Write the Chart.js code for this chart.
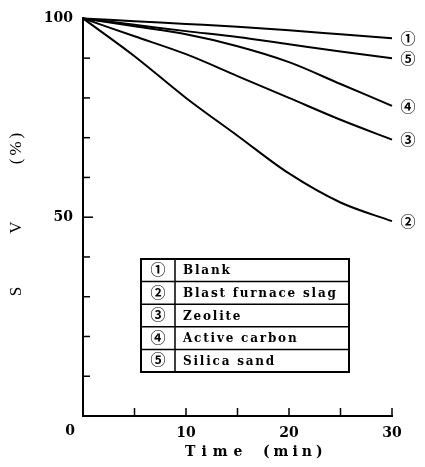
<!DOCTYPE html>
<html>
<head>
<meta charset="utf-8">
<script src="https://cdn.jsdelivr.net/npm/chart.js@4.4.0/dist/chart.umd.min.js"></script>
<style>
  html, body { margin: 0; padding: 0; background: #fff; }
  #wrap { width: 425px; height: 467px; position: relative; }
</style>
</head>
<body>
<div id="wrap"><canvas id="svChart"></canvas></div>
<script>
// time (min)
const times = [0, 5, 10, 15, 20, 25, 30];

// SV (%) per material
const blank = [100, 99.3, 98.6, 97.9, 97, 96, 95];
const blastFurnaceSlag = [100, 90.5, 80, 70.5, 61, 53.7, 49];
const zeolite = [100, 95.5, 91, 85.5, 80, 74.5, 69.5];
const activeCarbon = [100, 98, 96, 93, 89, 83.5, 78];
const silicaSand = [100, 98.4, 96.8, 95.3, 93.5, 91.7, 90];

const seriesNames = ['Blank', 'Blast furnace slag', 'Zeolite', 'Active carbon', 'Silica sand'];
const seriesMarks = ['①', '②', '③', '④', '⑤'];
const seriesValues = [blank, blastFurnaceSlag, zeolite, activeCarbon, silicaSand];

const xTickLabels = [10, 20, 30];
const yTickLabels = [100, 50];

const SERIF_BOLD = 'bold 14px "DejaVu Serif", serif';
const MARK_FONT = 'bold 15px "Noto Sans CJK JP", "DejaVu Sans", sans-serif';

const overlayPlugin = {
    id: 'overlay',
    afterDraw(chart) {
        const { ctx, chartArea, scales } = chart;
        const xs = scales.x, ys = scales.y;
        ctx.save();

        // inward tick marks
        ctx.strokeStyle = '#000';
        ctx.lineWidth = 1.5;
        xs.ticks.forEach(t => {
            if (t.value <= 0) return;
            const px = xs.getPixelForValue(t.value);
            ctx.beginPath();
            ctx.moveTo(px, chartArea.bottom);
            ctx.lineTo(px, chartArea.bottom - 8);
            ctx.stroke();
        });
        ys.ticks.forEach(t => {
            if (t.value <= 0 || t.value >= 100) return;
            const py = ys.getPixelForValue(t.value);
            ctx.beginPath();
            ctx.moveTo(chartArea.left, py);
            ctx.lineTo(chartArea.left + (t.value === 50 ? 10 : 7), py);
            ctx.stroke();
        });

        ctx.fillStyle = '#000';

        // origin label
        ctx.font = SERIF_BOLD;
        ctx.textAlign = 'center';
        ctx.textBaseline = 'middle';
        ctx.fillText('0', chartArea.left - 13, chartArea.bottom + 15);

        // curve end marks
        ctx.font = MARK_FONT;
        chart.data.datasets.forEach((ds, i) => {
            const last = ds.data[ds.data.length - 1];
            ctx.fillText(seriesMarks[i], xs.right + 16, ys.getPixelForValue(last.y));
        });

        // x title
        ctx.font = SERIF_BOLD;
        ctx.textAlign = 'left';
        ctx.letterSpacing = '6px';
        ctx.fillText('Time', 185, 452);
        ctx.letterSpacing = '4px';
        ctx.fillText('(min)', 263, 452);

        // y title
        ctx.letterSpacing = '3px';
        ctx.font = '17px "Liberation Serif", serif';
        ctx.textAlign = 'center';
        ctx.save();
        ctx.translate(17, 0);
        ctx.rotate(-Math.PI / 2);
        ctx.fillText('S', -290, 0);
        ctx.fillText('V', -226, 0);
        ctx.fillText('(%)', -147, 0);
        ctx.restore();

        // legend table
        const lx = 141, rx = 349, ty = 259, rowH = 22.6, divX = 175;
        const by = ty + rowH * seriesNames.length;
        ctx.lineWidth = 2;
        ctx.strokeRect(lx, ty, rx - lx, by - ty);
        ctx.lineWidth = 1.5;
        ctx.beginPath();
        ctx.moveTo(divX, ty);
        ctx.lineTo(divX, by);
        for (let i = 1; i < seriesNames.length; i++) {
            ctx.moveTo(lx, ty + rowH * i);
            ctx.lineTo(rx, ty + rowH * i);
        }
        ctx.stroke();
        seriesNames.forEach((name, i) => {
            const cy = ty + rowH * i + rowH / 2 + 1;
            ctx.letterSpacing = '0px';
            ctx.textAlign = 'center';
            ctx.font = MARK_FONT;
            ctx.fillText(seriesMarks[i], (lx + divX) / 2, cy - 2);
            ctx.textAlign = 'left';
            ctx.font = 'bold 12px "DejaVu Serif", serif';
            ctx.letterSpacing = '1.8px';
            ctx.fillText(name, 183, cy);
        });

        ctx.restore();
    }
};

function buildDatasets() {
    return seriesValues.map((vals, i) => ({
        label: seriesNames[i],
        data: times.map((t, j) => ({ x: t, y: vals[j] })),
        borderColor: '#000',
        borderWidth: 2,
        pointRadius: 0,
        cubicInterpolationMode: 'monotone',
        fill: false,
        clip: false
    }));
}

new Chart(document.getElementById('svChart').getContext('2d'), {
    type: 'line',
    data: { datasets: buildDatasets() },
    options: {
        responsive: true,
        maintainAspectRatio: false,
        animation: false,
        layout: { padding: { top: 12, right: 33, left: 0, bottom: 0 } },
        plugins: { legend: { display: false }, tooltip: { enabled: false } },
        scales: {
            x: {
                type: 'linear',
                min: 0,
                max: 30,
                afterFit: s => { s.height = 51; },
                border: { color: '#000', width: 2 },
                grid: { drawOnChartArea: false, drawTicks: false },
                ticks: {
                    stepSize: 5,
                    padding: 9,
                    color: '#000',
                    font: { family: '"DejaVu Serif", serif', size: 14, weight: 'bold' },
                    callback: v => xTickLabels.includes(v) ? String(v) : ''
                }
            },
            y: {
                min: 0,
                max: 100,
                afterFit: s => { s.width = 83; },
                border: { color: '#000', width: 2 },
                grid: { drawOnChartArea: false, drawTicks: false },
                ticks: {
                    stepSize: 10,
                    padding: 10,
                    color: '#000',
                    font: { family: '"DejaVu Serif", serif', size: 14, weight: 'bold' },
                    callback: v => yTickLabels.includes(v) ? String(v) : ''
                }
            }
        }
    },
    plugins: [overlayPlugin]
});
</script>
</body>
</html>
